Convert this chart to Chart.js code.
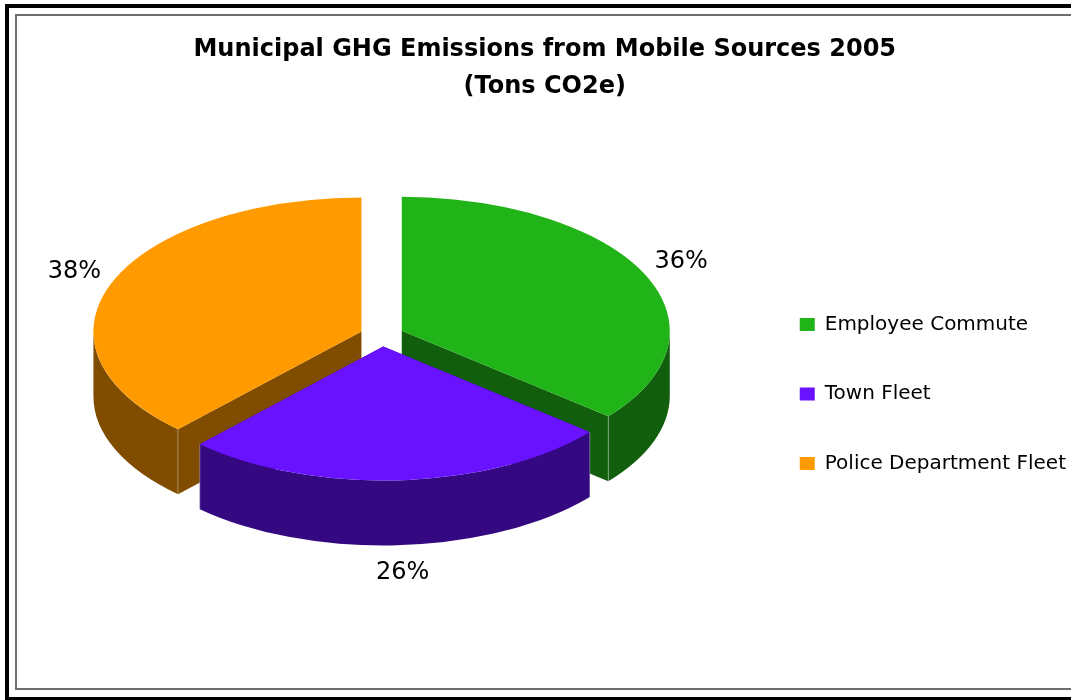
<!DOCTYPE html>
<html>
<head>
<meta charset="utf-8">
<title>Municipal GHG Emissions from Mobile Sources 2005</title>
<script src="https://cdn.jsdelivr.net/npm/chart.js@4.4.1/dist/chart.umd.min.js"></script>
<style>
  html, body { margin: 0; padding: 0; background: #fff; overflow: hidden; }
  #wrap { position: relative; width: 1071px; height: 700px; overflow: hidden; }
  #chart { position: absolute; left: 0; top: 0; }
  .frame { position: absolute; box-sizing: border-box; pointer-events: none; }
  #outer { left: 5px; top: 4px; width: 1200px; height: 697px; border: 4px solid #000; }
  #inner { left: 15px; top: 14px; width: 1200px; height: 676px; border: 2px solid #6e6e6e; }
</style>
</head>
<body>
<div id="wrap">
  <canvas id="chart" width="1071" height="700"></canvas>
  <div class="frame" id="outer"></div>
  <div class="frame" id="inner"></div>
</div>
<script>
// Emission sources and their share of the 2005 mobile-source total (%)
const categories = ['Employee Commute', 'Town Fleet', 'Police Department Fleet'];
const shares = [36, 26, 38];
const titleLines = ['Municipal GHG Emissions from Mobile Sources 2005', '(Tons CO2e)'];

// Top face colours and the darker shade used for the sides of each wedge
const topColors = ['#21B419', '#6812FF', '#FF9B00'];
const sideColors = ['#115E0C', '#340880', '#804D00'];

// Returns the parts of [a0, a1] where the outer rim faces the viewer (lower half of the ellipse)
function frontSpans(a0, a1) {
  const spans = [];
  for (let k = -1; k <= 2; k++) {
    const s = Math.max(a0, 2 * Math.PI * k);
    const e = Math.min(a1, 2 * Math.PI * k + Math.PI);
    if (e > s) spans.push([s, e]);
  }
  return spans;
}

// Renders the pie arcs as tilted, extruded, exploded wedges plus percentage labels
const pie3d = {
  id: 'pie3d',
  beforeDatasetsDraw(chart, args, opts) {
    const ctx = chart.ctx;
    const meta = chart.getDatasetMeta(0);
    const values = chart.data.datasets[0].data;
    const total = values.reduce((a, b) => a + b, 0);
    const tilt = opts.tilt;
    const depth = opts.depth;

    const slices = meta.data.map((arc, i) => {
      const p = arc.getProps(['x', 'y', 'startAngle', 'endAngle', 'outerRadius'], true);
      const off = arc.options.offset || 0;
      const mid = (p.startAngle + p.endAngle) / 2;
      const rx = p.outerRadius;
      const ry = rx * tilt;
      return {
        i, a0: p.startAngle, a1: p.endAngle, mid, rx, ry,
        cx: p.x + Math.cos(mid) * off,
        cy: p.y - depth / 2 + Math.sin(mid) * off * tilt
      };
    });

    const order = slices.slice().sort((a, b) => Math.sin(a.mid) - Math.sin(b.mid));
    ctx.save();
    order.forEach(s => {
      const side = sideColors[s.i];
      const edge = a => [s.cx + s.rx * Math.cos(a), s.cy + s.ry * Math.sin(a)];

      // cut faces from the centre out to the rim
      [s.a0, s.a1].forEach(a => {
        const [ex, ey] = edge(a);
        ctx.beginPath();
        ctx.moveTo(s.cx, s.cy);
        ctx.lineTo(ex, ey);
        ctx.lineTo(ex, ey + depth);
        ctx.lineTo(s.cx, s.cy + depth);
        ctx.closePath();
        ctx.fillStyle = side;
        ctx.fill();
      });

      // curved rim facing the viewer
      frontSpans(s.a0, s.a1).forEach(([st, en]) => {
        ctx.beginPath();
        ctx.ellipse(s.cx, s.cy, s.rx, s.ry, 0, st, en, false);
        ctx.ellipse(s.cx, s.cy + depth, s.rx, s.ry, 0, en, st, true);
        ctx.closePath();
        ctx.fillStyle = side;
        ctx.fill();
      });

      // light seam on visible vertical corners
      [s.a0, s.a1].forEach(a => {
        if (Math.sin(a) <= 0.02) return;
        const [ex, ey] = edge(a);
        ctx.beginPath();
        ctx.moveTo(ex, ey);
        ctx.lineTo(ex, ey + depth);
        ctx.strokeStyle = 'rgba(255,255,255,0.35)';
        ctx.lineWidth = 1;
        ctx.stroke();
      });

      // top face
      ctx.beginPath();
      ctx.moveTo(s.cx, s.cy);
      ctx.ellipse(s.cx, s.cy, s.rx, s.ry, 0, s.a0, s.a1, false);
      ctx.closePath();
      ctx.fillStyle = topColors[s.i];
      ctx.fill();
    });

    // percentage labels outside the rim
    ctx.font = opts.labelFont;
    ctx.fillStyle = '#000';
    ctx.textAlign = 'center';
    ctx.textBaseline = 'middle';
    slices.forEach(s => {
      const c = Math.cos(s.mid), sn = Math.sin(s.mid);
      const text = Math.round(values[s.i] / total * 100) + '%';
      const w = ctx.measureText(text).width;
      const ax = s.cx + (s.rx + opts.gap) * c;
      const ay = s.cy + (s.ry + opts.gap) * sn + (sn > 0 ? depth : 0);
      ctx.fillText(text, ax + c * w / 2, ay + sn * 14);
    });
    ctx.restore();
    return false;
  }
};

Chart.defaults.font.family = '"DejaVu Sans", Verdana, sans-serif';

new Chart(document.getElementById('chart'), {
  type: 'pie',
  data: {
    labels: categories,
    datasets: [{
      data: shares,
      backgroundColor: topColors,
      borderWidth: 0,
      offset: 22,
      hoverOffset: 0
    }]
  },
  options: {
    responsive: false,
    animation: false,
    events: [],
    radius: 268,
    layout: { padding: { left: 13.5, right: -5, top: 0, bottom: 72 } },
    plugins: {
      pie3d: { tilt: 0.5, depth: 65, gap: 14, labelFont: '24px "DejaVu Sans", Verdana, sans-serif' },
      tooltip: { enabled: false },
      title: {
        display: true,
        text: titleLines,
        color: '#000',
        padding: { top: 31, bottom: 3 },
        font: { family: '"DejaVu Sans", sans-serif', weight: 'bold', size: 24, lineHeight: 37 / 24 }
      },
      legend: {
        position: 'right',
        align: 'start',
        fullSize: false,
        title: { display: true, text: '', padding: 0, font: { size: 157, lineHeight: 1 } },
        labels: {
          boxWidth: 15,
          boxHeight: 13,
          padding: 49.5,
          color: '#000',
          font: { size: 20 }
        }
      }
    }
  },
  plugins: [pie3d]
});
</script>
</body>
</html>
